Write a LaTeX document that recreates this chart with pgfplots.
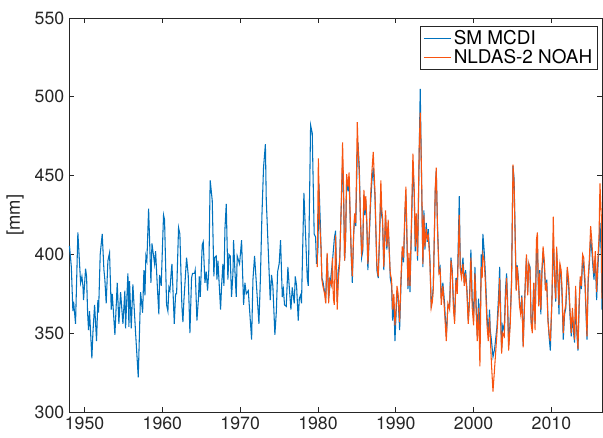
\documentclass[border=0pt]{standalone}
\usepackage{fontspec}
\setmainfont{TeX Gyre Heros}
\usepackage{pgfplots}
\usepackage{pgfplotstable}
\pgfplotsset{compat=1.18}
\definecolor{smblue}{RGB}{0,114,189}
\definecolor{noahorange}{RGB}{248,84,16}
\definecolor{axgray}{RGB}{38,38,38}

% Soil moisture, SM MCDI reconstruction
\pgfplotstableread{
year val
1948.00 405
1948.07 405
1948.30 392
1948.50 364
1948.59 370
1948.84 356
1949.14 414
1949.49 382
1949.66 386
1949.79 380
1949.87 371
1950.13 391
1950.26 386
1950.39 363
1950.51 352
1950.64 364
1950.94 334
1951.07 350
1951.29 368
1951.54 345
1951.71 371
1951.80 363
1952.01 400
1952.27 413
1952.49 390
1952.61 384
1952.78 369
1953.00 396
1953.21 401
1953.43 365
1953.56 375
1953.90 349
1954.20 382
1954.41 356
1954.63 376
1954.93 356
1955.18 377
1955.27 353
1955.57 388
1955.70 354
1955.78 383
1956.00 353
1956.21 381
1956.56 350
1956.90 322
1957.20 376
1957.46 363
1957.63 390
1957.76 374
1957.88 399
1958.01 396
1958.23 429
1958.53 382
1958.66 407
1959.00 394
1959.13 402
1959.38 377
1959.55 362
1959.64 387
1959.85 380
1959.94 394
1960.15 425
1960.28 422
1960.54 368
1960.71 364
1960.84 379
1960.97 377
1961.14 389
1961.23 394
1961.53 356
1961.70 375
1961.83 375
1962.08 417
1962.25 413
1962.51 367
1962.64 357
1962.77 371
1963.11 398
1963.32 387
1963.54 350
1963.75 385
1963.88 388
1964.14 388
1964.22 390
1964.44 358
1964.65 373
1964.74 386
1964.87 373
1965.12 406
1965.25 408
1965.47 382
1965.64 389
1965.81 377
1965.98 391
1966.11 437
1966.15 447
1966.41 434
1966.62 386
1966.71 398
1966.92 399
1967.01 384
1967.14 396
1967.48 365
1967.61 380
1967.78 394
1967.91 380
1968.04 416
1968.21 432
1968.42 384
1968.55 400
1968.72 399
1968.89 373
1969.07 388
1969.15 409
1969.32 390
1969.49 373
1969.62 399
1969.92 394
1970.18 409
1970.44 368
1970.61 382
1970.78 375
1971.04 377
1971.47 346
1971.64 384
1971.85 399
1972.10 380
1972.41 356
1972.60 385
1972.79 424
1973.00 455
1973.24 470
1973.35 435
1973.56 409
1973.86 371
1974.03 387
1974.20 380
1974.46 349
1974.65 364
1974.81 389
1975.01 394
1975.19 409
1975.41 373
1975.55 378
1975.70 368
1975.92 367
1976.13 392
1976.30 380
1976.52 365
1976.69 379
1976.95 369
1977.08 386
1977.25 380
1977.46 358
1977.60 372
1977.75 374
1977.88 369
1978.19 439
1978.40 413
1978.62 385
1978.75 380
1979.05 482
1979.26 477
1979.51 413
1979.69 411
1979.81 394
1979.99 402
1980.12 445
1980.30 420
1980.50 385
1980.63 383
1980.85 376
1980.99 372
1981.18 400
1981.37 372
1981.62 384
1981.85 395
1982.10 410
1982.26 415
1982.47 370
1982.62 390
1982.78 396
1982.99 430
1983.16 458
1983.28 440
1983.42 396
1983.55 410
1983.68 448
1983.85 440
1984.00 448
1984.15 420
1984.28 398
1984.41 382
1984.58 412
1984.71 424
1984.85 418
1985.05 465
1985.14 471
1985.31 455
1985.44 426
1985.61 398
1985.75 402
1985.90 438
1986.02 425
1986.15 434
1986.28 418
1986.41 390
1986.60 412
1986.76 432
1986.92 446
1987.10 455
1987.32 437
1987.49 405
1987.57 390
1987.74 385
1987.91 410
1988.08 440
1988.20 424
1988.29 422
1988.46 390
1988.68 425
1988.85 403
1989.02 418
1989.15 405
1989.29 385
1989.46 380
1989.59 358
1989.75 370
1989.89 345
1990.02 360
1990.15 377
1990.30 372
1990.49 352
1990.66 380
1990.83 402
1991.00 395
1991.17 425
1991.30 438
1991.43 410
1991.56 378
1991.69 398
1991.82 376
1992.03 420
1992.20 455
1992.37 438
1992.50 402
1992.63 424
1992.80 396
1993.01 465
1993.14 505
1993.31 448
1993.48 392
1993.61 428
1993.74 403
1993.91 420
1994.04 408
1994.17 416
1994.38 398
1994.55 368
1994.70 372
1994.82 380
1994.95 410
1995.07 440
1995.20 453
1995.35 420
1995.55 390
1995.70 392
1995.84 372
1996.05 382
1996.25 370
1996.49 348
1996.70 368
1996.92 368
1997.09 398
1997.25 390
1997.43 366
1997.56 360
1997.73 385
1997.90 378
1998.16 437
1998.29 392
1998.45 388
1998.63 398
1998.80 382
1998.97 390
1999.14 378
1999.31 358
1999.48 373
1999.65 403
1999.82 372
2000.00 360
2000.17 392
2000.34 366
2000.47 348
2000.64 372
2000.81 341
2000.98 400
2001.10 390
2001.19 413
2001.36 402
2001.53 386
2001.71 362
2001.88 350
2002.05 365
2002.14 352
2002.30 345
2002.49 335
2002.70 340
2003.00 354
2003.22 375
2003.35 392
2003.45 370
2003.60 340
2003.75 355
2003.94 352
2004.10 378
2004.24 388
2004.37 370
2004.50 342
2004.70 358
2004.88 384
2005.06 456
2005.20 448
2005.35 410
2005.48 378
2005.61 393
2005.75 385
2005.91 368
2006.05 365
2006.20 374
2006.37 342
2006.50 364
2006.66 384
2006.79 398
2006.95 376
2007.09 394
2007.25 392
2007.39 357
2007.55 355
2007.73 382
2007.90 356
2008.07 400
2008.20 405
2008.37 368
2008.50 390
2008.64 362
2008.78 388
2008.93 402
2009.10 392
2009.24 378
2009.40 384
2009.55 360
2009.70 348
2009.86 339
2010.07 372
2010.24 409
2010.41 384
2010.55 370
2010.67 402
2010.84 384
2010.97 362
2011.10 392
2011.25 388
2011.38 372
2011.52 346
2011.69 362
2011.85 366
2012.04 390
2012.21 380
2012.38 362
2012.55 348
2012.70 362
2012.85 350
2012.98 344
2013.11 376
2013.25 352
2013.41 339
2013.56 366
2013.71 384
2013.85 378
2014.01 398
2014.15 392
2014.32 380
2014.57 346
2014.72 382
2014.87 394
2015.04 410
2015.20 402
2015.34 392
2015.47 384
2015.64 398
2015.81 371
2015.98 392
2016.11 405
2016.24 420
2016.41 400
2016.50 365
}\smmcdi

% Soil moisture, NLDAS-2 NOAH model
\pgfplotstableread{
year val
1979.90 392
1980.05 461
1980.20 422
1980.40 403
1980.50 384
1980.63 380
1980.85 375
1980.99 369
1981.18 401
1981.37 369
1981.50 384
1981.62 382
1981.75 380
1981.85 398
1981.98 372
1982.10 368
1982.26 412
1982.40 380
1982.47 365
1982.62 384
1982.78 394
1982.99 432
1983.16 471
1983.28 445
1983.42 396
1983.55 410
1983.68 451
1983.85 443
1984.00 452
1984.15 422
1984.28 399
1984.41 386
1984.58 413
1984.71 426
1984.85 420
1985.05 484
1985.14 470
1985.31 450
1985.44 426
1985.61 401
1985.75 405
1985.90 441
1986.02 428
1986.15 437
1986.28 420
1986.41 394
1986.60 415
1986.76 437
1986.92 452
1987.10 465
1987.32 440
1987.49 407
1987.57 393
1987.74 386
1987.91 413
1988.08 447
1988.20 428
1988.29 424
1988.46 392
1988.68 428
1988.85 405
1989.02 422
1989.15 402
1989.29 388
1989.46 384
1989.59 365
1989.75 375
1989.89 355
1990.02 364
1990.15 380
1990.30 375
1990.49 357
1990.66 384
1990.83 405
1991.00 398
1991.17 428
1991.30 443
1991.43 412
1991.56 380
1991.69 401
1991.82 380
1992.03 424
1992.20 464
1992.37 441
1992.50 405
1992.63 426
1992.80 399
1993.01 468
1993.14 490
1993.31 451
1993.48 394
1993.61 425
1993.74 405
1993.91 416
1994.04 410
1994.17 412
1994.38 396
1994.55 366
1994.70 370
1994.82 378
1994.95 412
1995.07 442
1995.20 455
1995.35 418
1995.55 388
1995.70 390
1995.84 368
1996.05 380
1996.25 365
1996.49 345
1996.70 369
1996.92 365
1997.09 396
1997.25 388
1997.43 364
1997.56 356
1997.73 384
1997.90 375
1998.16 425
1998.29 390
1998.45 385
1998.63 394
1998.80 380
1998.97 388
1999.14 376
1999.31 356
1999.48 370
1999.65 398
1999.82 366
2000.00 355
2000.17 388
2000.34 362
2000.47 345
2000.64 366
2000.81 329
2000.98 392
2001.10 385
2001.19 400
2001.36 396
2001.53 380
2001.71 356
2001.88 345
2002.05 360
2002.14 348
2002.30 330
2002.49 313
2002.70 328
2003.00 350
2003.22 368
2003.35 385
2003.45 362
2003.60 337
2003.75 350
2003.94 348
2004.10 372
2004.24 385
2004.37 365
2004.50 339
2004.70 355
2004.88 382
2005.06 457
2005.20 445
2005.35 408
2005.48 377
2005.61 392
2005.75 383
2005.91 367
2006.05 362
2006.20 373
2006.37 341
2006.50 362
2006.66 384
2006.79 400
2006.95 374
2007.09 394
2007.25 390
2007.39 356
2007.55 350
2007.73 382
2007.90 352
2008.07 409
2008.20 414
2008.37 367
2008.50 388
2008.64 365
2008.78 390
2008.93 405
2009.10 395
2009.24 377
2009.40 382
2009.55 358
2009.70 350
2009.86 345
2010.07 371
2010.24 424
2010.41 384
2010.55 372
2010.67 405
2010.84 384
2010.97 368
2011.10 394
2011.25 390
2011.38 376
2011.52 350
2011.69 364
2011.85 368
2012.04 392
2012.21 384
2012.38 366
2012.55 350
2012.70 366
2012.85 354
2012.98 346
2013.11 380
2013.25 355
2013.41 340
2013.56 370
2013.71 386
2013.85 380
2014.01 400
2014.15 398
2014.32 384
2014.57 348
2014.72 385
2014.87 396
2015.04 418
2015.20 408
2015.34 396
2015.47 388
2015.64 402
2015.81 376
2015.98 398
2016.11 410
2016.24 445
2016.41 424
2016.50 372
}\noah

\begin{document}
\begin{tikzpicture}
\begin{axis}[
  scale only axis,
  width=399.75pt, height=295.5pt,
  xmin=1948, xmax=2016.5,
  ymin=300, ymax=550,
  xtick={1950,1960,...,2010},
  ytick={300,350,...,550},
  tick align=inside,
  major tick length=4pt,
  axis line style={axgray, line width=0.6pt},
  every tick/.style={axgray, line width=0.6pt},
  /pgf/number format/assume math mode=true,
  /pgf/number format/1000 sep={},
  tick label style={font=\fontsize{13.3}{15}\selectfont, text=axgray},
  ylabel={[mm]},
  ylabel style={font=\fontsize{13.8}{16}\selectfont, text=axgray,
    at={(axis description cs:-0.101,0.5)}, anchor=center},
  legend style={at={(0.9925,0.9797)}, anchor=north east,
    draw=axgray, line width=0.6pt,
    font=\fontsize{14.2}{16}\selectfont,
    inner xsep=2pt, inner ysep=1pt, row sep=-2pt,
    cells={anchor=west}},
  legend image code/.code={\draw[#1] (0pt,0pt) -- (20pt,0pt);},
  clip=true,
]
\addplot[smblue, line width=0.8pt] table[x=year, y=val] {\smmcdi};
\addlegendentry{SM MCDI}
\addplot[noahorange, line width=0.8pt] table[x=year, y=val] {\noah};
\addlegendentry{NLDAS-2 NOAH}
\end{axis}
\pgfresetboundingbox
\path (-51.75pt,-18.75pt) rectangle (400.5pt,309pt);
\end{tikzpicture}
\end{document}
